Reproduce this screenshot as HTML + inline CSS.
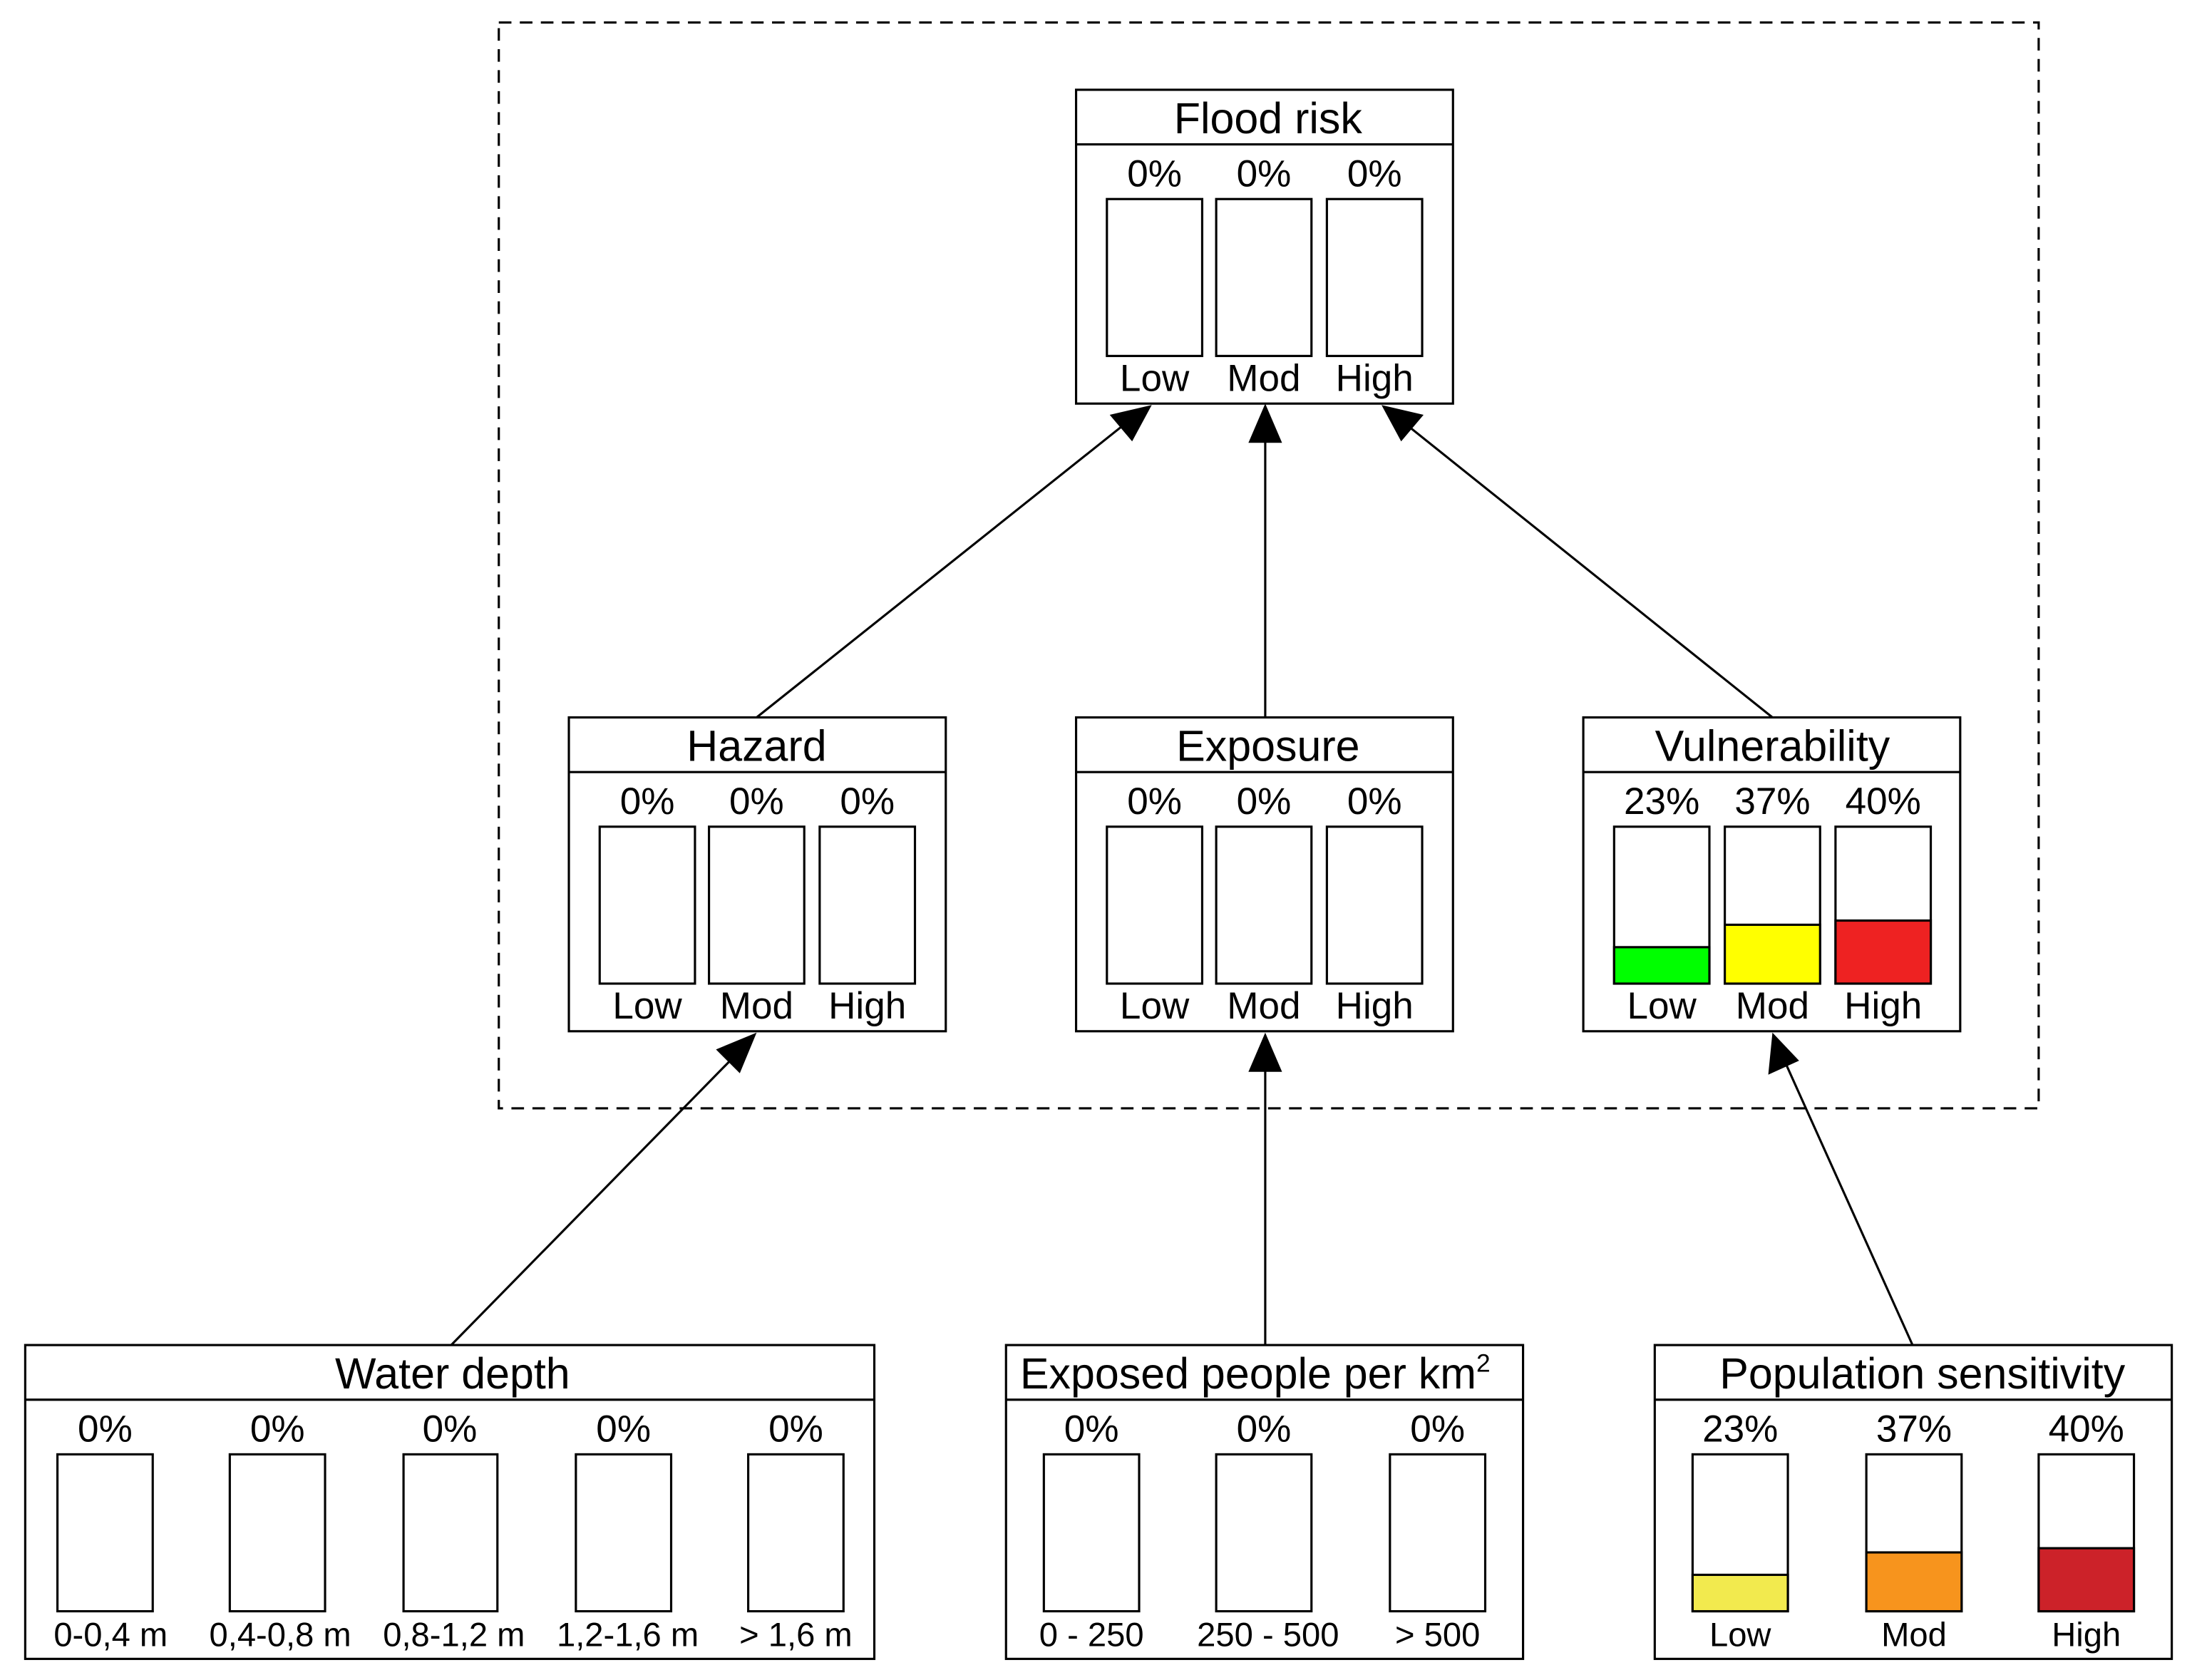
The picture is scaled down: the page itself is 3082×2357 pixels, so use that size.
<!DOCTYPE html>
<html><head><meta charset="utf-8"><style>
html,body{margin:0;padding:0;background:#fff;}
svg{display:block;}
text{font-family:"Liberation Sans",Arial,sans-serif;fill:#000;}
</style></head><body>
<svg width="3082" height="2357" viewBox="0 0 1568 1199" xmlns="http://www.w3.org/2000/svg">
<rect x="356" y="16" width="1099" height="775" fill="none" stroke="#000" stroke-width="1.6" stroke-dasharray="9,6"/>

<g stroke="#000" stroke-width="1.6" fill="#fff">
<rect x="768" y="64" width="269" height="224"/><line x1="768" y1="103" x2="1037" y2="103"/>
<rect x="790" y="142" width="68" height="112"/><rect x="868" y="142" width="68" height="112"/><rect x="947" y="142" width="68" height="112"/>
<rect x="406" y="512" width="269" height="224"/><line x1="406" y1="551" x2="675" y2="551"/>
<rect x="428" y="590" width="68" height="112"/><rect x="506" y="590" width="68" height="112"/><rect x="585" y="590" width="68" height="112"/>
<rect x="768" y="512" width="269" height="224"/><line x1="768" y1="551" x2="1037" y2="551"/>
<rect x="790" y="590" width="68" height="112"/><rect x="868" y="590" width="68" height="112"/><rect x="947" y="590" width="68" height="112"/>
<rect x="1130" y="512" width="269" height="224"/><line x1="1130" y1="551" x2="1399" y2="551"/>
<rect x="1152" y="590" width="68" height="112"/><rect x="1231" y="590" width="68" height="112"/><rect x="1310" y="590" width="68" height="112"/>
<rect x="1152" y="676" width="68" height="26" fill="#00ff00"/><rect x="1231" y="660" width="68" height="42" fill="#ffff00"/><rect x="1310" y="657" width="68" height="45" fill="#ee2222"/>
<rect x="18" y="960" width="606" height="224"/><line x1="18" y1="999" x2="624" y2="999"/>
<rect x="41" y="1038" width="68" height="112"/><rect x="164" y="1038" width="68" height="112"/><rect x="288" y="1038" width="67" height="112"/><rect x="411" y="1038" width="68" height="112"/><rect x="534" y="1038" width="68" height="112"/>
<rect x="718" y="960" width="369" height="224"/><line x1="718" y1="999" x2="1087" y2="999"/>
<rect x="745" y="1038" width="68" height="112"/><rect x="868" y="1038" width="68" height="112"/><rect x="992" y="1038" width="68" height="112"/>
<rect x="1181" y="960" width="369" height="224"/><line x1="1181" y1="999" x2="1550" y2="999"/>
<rect x="1208" y="1038" width="68" height="112"/><rect x="1332" y="1038" width="68" height="112"/><rect x="1455" y="1038" width="68" height="112"/>
<rect x="1208" y="1124" width="68" height="26" fill="#f2ea4e"/><rect x="1332" y="1108" width="68" height="42" fill="#f7941d"/><rect x="1455" y="1105" width="68" height="45" fill="#cc2229"/>
</g>

<g stroke="#000" stroke-width="1.6">
<line x1="540" y1="512" x2="806" y2="300"/>
<line x1="903" y1="512" x2="903" y2="310"/>
<line x1="1265" y1="512" x2="1000" y2="300"/>
<line x1="322" y1="960" x2="525" y2="753"/>
<line x1="903" y1="960" x2="903" y2="758"/>
<line x1="1365" y1="960" x2="1274" y2="758"/>
</g>
<g fill="#000">
<polygon points="822,289 792,296 808,315"/>
<polygon points="903,288 891,316 915,316"/>
<polygon points="986,289 1000,315 1016,296"/>
<polygon points="540,737 511,749 528,766"/>
<polygon points="903,737 891,765 915,765"/>
<polygon points="1265,737 1262,767 1284,757"/>
</g>

<g font-size="31" text-anchor="middle">
<text x="905" y="95">Flood risk</text>
<text x="540" y="543">Hazard</text>
<text x="905" y="543">Exposure</text>
<text x="1265" y="543">Vulnerability</text>
<text x="323" y="991">Water depth</text>
<text x="1372" y="991">Population sensitivity</text>
</g>
<text x="728" y="991" font-size="31">Exposed people per km<tspan font-size="18" dy="-12">2</tspan></text>

<g font-size="27" text-anchor="middle">
<text x="824" y="133">0%</text><text x="902" y="133">0%</text><text x="981" y="133">0%</text>
<text x="824" y="279">Low</text><text x="902" y="279">Mod</text><text x="981" y="279">High</text>
<text x="462" y="581">0%</text><text x="540" y="581">0%</text><text x="619" y="581">0%</text>
<text x="462" y="727">Low</text><text x="540" y="727">Mod</text><text x="619" y="727">High</text>
<text x="824" y="581">0%</text><text x="902" y="581">0%</text><text x="981" y="581">0%</text>
<text x="824" y="727">Low</text><text x="902" y="727">Mod</text><text x="981" y="727">High</text>
<text x="1186" y="581">23%</text><text x="1265" y="581">37%</text><text x="1344" y="581">40%</text>
<text x="1186" y="727">Low</text><text x="1265" y="727">Mod</text><text x="1344" y="727">High</text>
<text x="75" y="1029">0%</text><text x="198" y="1029">0%</text><text x="321" y="1029">0%</text><text x="445" y="1029">0%</text><text x="568" y="1029">0%</text>
<text x="779" y="1029">0%</text><text x="902" y="1029">0%</text><text x="1026" y="1029">0%</text>
<text x="1242" y="1029">23%</text><text x="1366" y="1029">37%</text><text x="1489" y="1029">40%</text>
</g>
<g font-size="24" text-anchor="middle">
<text x="79" y="1175">0-0,4 m</text><text x="200" y="1175">0,4-0,8 m</text><text x="324" y="1175">0,8-1,2 m</text><text x="448" y="1175">1,2-1,6 m</text><text x="568" y="1175">&gt; 1,6 m</text>
<text x="779" y="1175">0 - 250</text><text x="905" y="1175">250 - 500</text><text x="1026" y="1175">&gt; 500</text>
<text x="1242" y="1175">Low</text><text x="1366" y="1175">Mod</text><text x="1489" y="1175">High</text>
</g>
</svg>
</body></html>
